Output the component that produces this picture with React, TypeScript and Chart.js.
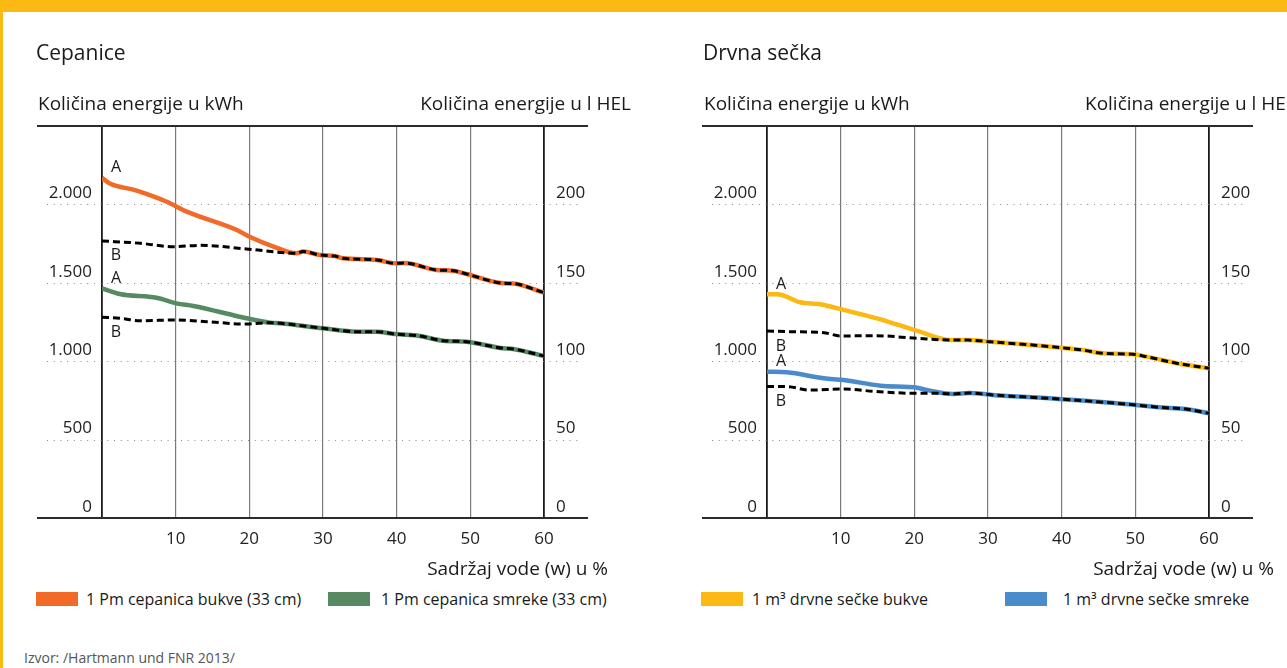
import React, { useEffect, useRef } from "react";
import { Chart, registerables } from "chart.js";
Chart.register(...registerables);

const FONT = "'Open Sans', 'Noto Sans', sans-serif";

// ---- Cepanice (left panel) ----
const cepBukveX = [0, 1, 4.7, 8.8, 11.5, 18.3, 20.1, 23.2, 26.4, 27.3, 29.6, 31.6, 32.7, 37.3, 39.8, 41.1, 45.4, 47.7, 49.5, 54.5, 55.8, 60];
const cepBukveA = [2169, 2135, 2088, 2017, 1954, 1837, 1792, 1733, 1688, 1700, 1677, 1671, 1656, 1646, 1624, 1626, 1582, 1577, 1556, 1497, 1495, 1437];
const cepBukveBX = [0, 5.2, 9.7, 13.3, 19.6, 26.4];
const cepBukveB = [1767, 1752, 1730, 1739, 1716, 1688];

const cepSmrekeX = [0, 2.4, 7.4, 10.1, 12.4, 19.6, 22.8, 24.2, 30, 34.6, 37.3, 39.8, 43.1, 46.3, 49.5, 54.5, 55.8, 60];
const cepSmrekeA = [1465, 1429, 1405, 1369, 1352, 1274, 1246, 1242, 1210, 1188, 1188, 1173, 1161, 1131, 1124, 1082, 1078, 1033];
const cepSmrekeBX = [0, 2.4, 5.2, 10.1, 14.2, 19.6, 22.8];
const cepSmrekeB = [1280, 1274, 1258, 1263, 1252, 1237, 1246];

// ---- Drvna sečka (right panel) ----
const secBukveX = [0, 1.4, 4.5, 7.2, 10.4, 15.4, 20.4, 24.9, 27.2, 30.3, 37.1, 40, 42.9, 45.6, 49.7, 51.5, 55.6, 57.7, 60];
const secBukveA = [1427, 1427, 1376, 1363, 1327, 1267, 1193, 1135, 1135, 1124, 1099, 1086, 1071, 1050, 1044, 1029, 987, 971, 955];
const secBukveBX = [0, 3.1, 7.7, 10, 14.5, 20.4, 24.9];
const secBukveB = [1193, 1188, 1182, 1161, 1163, 1146, 1135];

const secSmrekeX = [0, 2.7, 7.7, 10.4, 15.4, 20.4, 21.7, 25.3, 27.5, 30.6, 39.6, 48.6, 53.2, 56.8, 60];
const secSmrekeA = [933, 929, 891, 880, 844, 831, 816, 791, 797, 785, 759, 727, 706, 695, 668];
const secSmrekeBX = [0, 2.7, 5.8, 10.4, 14.9, 20.4, 23.5, 25.3];
const secSmrekeB = [838, 838, 816, 823, 806, 795, 795, 791];

// ---- axes ----
const xTicks = [0, 10, 20, 30, 40, 50, 60];
const kwhTicks = [0, 500, 1000, 1500, 2000];
const helTicks = [0, 50, 100, 150, 200];

const COLORS = {
  orange: "#F26A28",
  green: "#578A62",
  yellow: "#FCB813",
  blue: "#4A8CCB",
};

function pts(xs: number[], ys: number[]) {
  return xs.map((x, i) => ({ x, y: ys[i] }));
}
function withTail(hx: number[], hy: number[], ax: number[], ay: number[]) {
  const head = pts(hx, hy);
  const last = hx[hx.length - 1];
  const tail = pts(ax, ay).filter((p) => p.x > last);
  return head.concat(tail);
}

const fmt = (v: number) => (v >= 1000 ? `${Math.floor(v / 1000)}.${String(v % 1000).padStart(3, "0")}` : String(v));

type Series = { color: string; ax: number[]; ay: number[]; bx: number[]; by: number[] };

function PanelChart({ left, series }: { left: number; series: Series[] }) {
  const ref = useRef<HTMLCanvasElement>(null);
  useEffect(() => {
    if (!ref.current) return;
    const datasets: any[] = [];
    series.forEach((s) => {
      datasets.push({
        label: "B",
        data: withTail(s.bx, s.by, s.ax, s.ay),
        borderColor: "#000",
        borderWidth: 3,
        borderDash: [7, 4],
        pointRadius: 0,
        cubicInterpolationMode: "monotone",
        order: 0,
        yAxisID: "y",
      });
      datasets.push({
        label: "A",
        data: pts(s.ax, s.ay),
        borderColor: s.color,
        borderWidth: 4.5,
        pointRadius: 0,
        cubicInterpolationMode: "monotone",
        order: 1,
        yAxisID: "y",
      });
    });

    const framePlugin = {
      id: "frame",
      beforeDatasetsDraw(chart: any) {
        const { ctx, chartArea } = chart;
        const y = chart.scales.y;
        ctx.save();
        ctx.strokeStyle = "#8a8a8a";
        ctx.lineWidth = 1;
        ctx.setLineDash([1, 5.7]);
        y.ticks.forEach((t: any) => {
          if (t.value === 0) return;
          const py = Math.round(y.getPixelForValue(t.value)) + 0.5;
          ctx.beginPath();
          ctx.moveTo(chartArea.left - 55, py);
          ctx.lineTo(chartArea.right + 38, py);
          ctx.stroke();
        });
        ctx.setLineDash([]);
        ctx.strokeStyle = "#2b2b2b";
        ctx.lineWidth = 2;
        [chartArea.top, chartArea.bottom].forEach((py: number) => {
          ctx.beginPath();
          ctx.moveTo(chartArea.left - 65, py);
          ctx.lineTo(chartArea.right + 44, py);
          ctx.stroke();
        });
        ctx.restore();
      },
      afterDatasetsDraw(chart: any) {
        const { ctx } = chart;
        const xs = chart.scales.x;
        const ys = chart.scales.y;
        ctx.save();
        ctx.fillStyle = "#1a1a1a";
        ctx.font = `16px ${FONT}`;
        ctx.textAlign = "center";
        ctx.textBaseline = "middle";
        series.forEach((s) => {
          const ax = xs.getPixelForValue(s.ax[0]);
          const ay = ys.getPixelForValue(s.ay[0]);
          ctx.fillText("A", ax + 14, ay - 10);
          const bx = xs.getPixelForValue(s.bx[0]);
          const by = ys.getPixelForValue(s.by[0]);
          ctx.fillText("B", bx + 14, by + 15);
        });
        ctx.restore();
      },
    };

    const chart = new Chart(ref.current, {
      type: "line",
      data: { datasets },
      plugins: [framePlugin],
      options: {
        animation: false,
        responsive: false,
        layout: { padding: { top: 126, left: 0, right: 0, bottom: 0 } },
        plugins: { legend: { display: false }, tooltip: { enabled: false } },
        scales: {
          x: {
            type: "linear",
            min: 0,
            max: 60,
            afterBuildTicks: (s: any) => {
              s.ticks = xTicks.map((v) => ({ value: v }));
            },
            afterFit: (s: any) => {
              s.height = 42;
            },
            border: { display: false },
            grid: {
              drawTicks: false,
              color: (c: any) => (c.tick && (c.tick.value === 0 || c.tick.value === 60) ? "#1a1a1a" : "#7a7a7a"),
              lineWidth: (c: any) => (c.tick && (c.tick.value === 0 || c.tick.value === 60) ? 1.8 : 1.2),
            },
            ticks: {
              callback: (v: any) => (v === 0 ? "" : String(v)),
              font: { family: FONT, size: 17 },
              color: "#222",
              padding: 11,
              maxRotation: 0,
            },
          },
          y: {
            type: "linear",
            position: "left",
            min: 0,
            max: 2500,
            afterBuildTicks: (s: any) => {
              s.ticks = kwhTicks.map((v) => ({ value: v }));
            },
            afterFit: (s: any) => {
              s.width = 102;
            },
            border: { display: false },
            grid: { display: false, drawTicks: false },
            ticks: {
              callback: (v: any) => fmt(v),
              font: { family: FONT, size: 17 },
              color: "#222",
              padding: 10,
              labelOffset: -11,
            },
          },
          y2: {
            type: "linear",
            position: "right",
            min: 0,
            max: 250,
            afterBuildTicks: (s: any) => {
              s.ticks = helTicks.map((v) => ({ value: v }));
            },
            afterFit: (s: any) => {
              s.width = 99;
            },
            border: { display: false },
            grid: { display: false, drawTicks: false },
            ticks: {
              font: { family: FONT, size: 17 },
              color: "#222",
              padding: 12,
              labelOffset: -11,
            },
          },
        },
      } as any,
    });
    return () => chart.destroy();
  }, []);
  return (
    <canvas
      ref={ref}
      width={643}
      height={560}
      style={{ position: "absolute", left, top: 0, width: 643, height: 560 }}
    />
  );
}

const txt = (extra: React.CSSProperties): React.CSSProperties => ({
  position: "absolute",
  fontFamily: FONT,
  whiteSpace: "nowrap",
  color: "#1a1a1a",
  ...extra,
});

function Legend({ left, color, label, textLeft }: { left: number; color: string; label: string; textLeft: number }) {
  return (
    <>
      <div style={{ position: "absolute", left, top: 592, width: 42, height: 14, background: color }} />
      <div style={txt({ left: textLeft, top: 588, fontSize: 16, lineHeight: "22px" })}>{label}</div>
    </>
  );
}

export default function App() {
  const W = 1287;
  return (
    <div
      style={{
        position: "absolute",
        left: 0,
        top: 0,
        width: W,
        height: 668,
        background: "#fff",
        overflow: "hidden",
      }}
    >
      <div style={{ position: "absolute", left: 0, top: 0, width: W, height: 12, background: COLORS.yellow }} />
      <div style={{ position: "absolute", left: 0, top: 0, width: 3, height: 668, background: COLORS.yellow }} />

      <PanelChart
        left={0}
        series={[
          { color: COLORS.orange, ax: cepBukveX, ay: cepBukveA, bx: cepBukveBX, by: cepBukveB },
          { color: COLORS.green, ax: cepSmrekeX, ay: cepSmrekeA, bx: cepSmrekeBX, by: cepSmrekeB },
        ]}
      />
      <PanelChart
        left={665}
        series={[
          { color: COLORS.yellow, ax: secBukveX, ay: secBukveA, bx: secBukveBX, by: secBukveB },
          { color: COLORS.blue, ax: secSmrekeX, ay: secSmrekeA, bx: secSmrekeBX, by: secSmrekeB },
        ]}
      />

      <div style={txt({ left: 36, top: 37, fontSize: 21, lineHeight: "30px" })}>Cepanice</div>
      <div style={txt({ left: 703, top: 37, fontSize: 21, lineHeight: "30px" })}>Drvna sečka</div>

      <div style={txt({ left: 38, top: 89, fontSize: 19, lineHeight: "28px" })}>Količina energije u kWh</div>
      <div style={txt({ right: W - 631, top: 89, fontSize: 19, lineHeight: "28px" })}>Količina energije u l HEL</div>
      <div style={txt({ left: 704, top: 89, fontSize: 19, lineHeight: "28px" })}>Količina energije u kWh</div>
      <div style={txt({ left: 1085, top: 89, fontSize: 19, lineHeight: "28px" })}>Količina energije u l HEL</div>

      <div style={txt({ right: W - 608, top: 554, fontSize: 19, lineHeight: "28px" })}>Sadržaj vode (w) u %</div>
      <div style={txt({ right: W - 1274, top: 554, fontSize: 19, lineHeight: "28px" })}>Sadržaj vode (w) u %</div>

      <Legend left={36} color={COLORS.orange} label="1 Pm cepanica bukve (33 cm)" textLeft={86} />
      <Legend left={328} color={COLORS.green} label="1 Pm cepanica smreke (33 cm)" textLeft={381} />
      <Legend left={701} color={COLORS.yellow} label="1 m³ drvne sečke bukve" textLeft={752} />
      <Legend left={1005} color={COLORS.blue} label="1 m³ drvne sečke smreke" textLeft={1063} />

      <div style={txt({ left: 24, top: 648, fontSize: 14, lineHeight: "20px", color: "#555" })}>
        Izvor: /Hartmann und FNR 2013/
      </div>
    </div>
  );
}
